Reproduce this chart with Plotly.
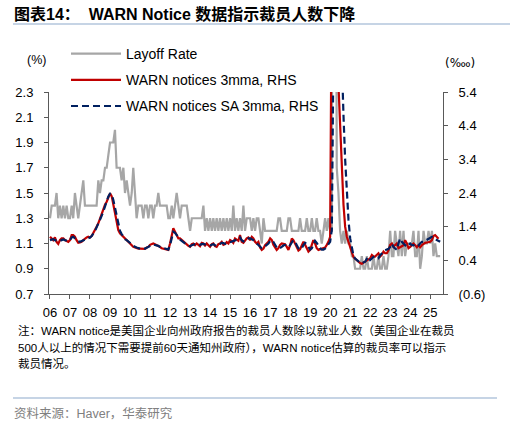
import pandas as pd
import plotly.graph_objects as go

# ---------------- data (monthly, from Jan 2006) ----------------
layoff_rate = [
    1.3,1.4,1.4,1.4,1.5,1.3,1.4,1.3,1.4,1.3,1.4,1.3,   # 2006
    1.3,1.4,1.3,1.5,1.4,1.3,1.4,1.5,1.6,1.4,1.4,1.4,   # 2007
    1.4,1.4,1.4,1.4,1.4,1.6,1.5,1.6,1.6,1.7,1.7,1.8,   # 2008
    1.9,1.9,1.9,2.0,1.7,1.7,1.7,1.6,1.7,1.5,1.6,1.5,   # 2009
    1.4,1.5,1.7,1.5,1.3,1.4,1.4,1.4,1.3,1.4,1.4,1.3,   # 2010
    1.4,1.4,1.3,1.4,1.4,1.5,1.4,1.4,1.4,1.4,1.4,1.3,   # 2011
    1.3,1.4,1.3,1.4,1.5,1.4,1.3,1.4,1.4,1.4,1.4,1.3,   # 2012
    1.2,1.3,1.3,1.3,1.3,1.3,1.3,1.3,1.4,1.2,1.3,1.2,   # 2013
    1.3,1.2,1.3,1.2,1.3,1.2,1.3,1.2,1.3,1.2,1.3,1.2,   # 2014
    1.3,1.2,1.4,1.2,1.3,1.2,1.3,1.2,1.4,1.2,1.3,1.3,   # 2015
    1.3,1.2,1.3,1.2,1.3,1.3,1.2,1.1,1.3,1.2,1.2,1.2,   # 2016
    1.2,1.2,1.2,1.2,1.2,1.3,1.3,1.2,1.2,1.2,1.2,1.3,   # 2017
    1.3,1.2,1.2,1.2,1.2,1.2,1.3,1.2,1.2,1.2,1.3,1.2,   # 2018
    1.2,1.3,1.2,1.2,1.3,1.2,1.2,1.1,1.2,1.3,1.2,1.3,   # 2019
    1.2,1.2,8.9,6.0,1.7,1.5,1.2,1.1,1.2,1.1,1.2,1.1,   # 2020
    1.1,1.0,1.0,0.9,0.9,0.9,0.9,1.0,0.9,0.9,1.0,0.9,   # 2021
    0.9,0.9,1.0,0.9,0.9,1.0,0.9,0.9,1.0,0.9,0.9,1.0,   # 2022
    1.2,1.0,1.0,1.2,1.1,1.0,1.2,1.0,1.2,1.0,1.1,1.1,   # 2023
    1.1,1.1,1.2,1.0,1.0,1.2,0.9,1.0,1.2,1.1,1.1,1.2,   # 2024
    1.1,1.2,1.0,1.1,1.0,1.0,1.0,                       # 2025
]

warn_3mma = [
    1.10,1.05,1.00,1.08,0.95,0.89,1.00,1.05,1.05,1.00,0.97,0.95,   # 2006
    1.00,1.15,1.15,1.10,1.00,0.92,0.93,0.95,1.00,1.05,1.08,1.10,   # 2007
    1.08,1.12,1.20,1.30,1.40,1.50,1.65,1.78,1.90,2.05,2.14,2.30,   # 2008
    2.39,2.30,2.09,1.85,1.55,1.30,1.20,1.15,1.10,1.05,1.02,0.98,   # 2009
    0.90,0.85,0.80,0.78,0.76,0.75,0.75,0.74,0.74,0.74,0.78,0.80,   # 2010
    0.86,0.88,0.90,0.88,0.86,0.84,0.80,0.76,0.75,0.74,0.72,0.71,   # 2011
    0.90,1.20,1.35,1.25,1.15,1.05,1.05,1.00,0.95,0.90,0.86,0.83,   # 2012
    0.80,0.88,0.90,0.85,0.90,0.87,0.82,0.92,0.90,0.84,0.90,0.85,   # 2013
    0.80,0.88,0.90,0.82,0.80,0.88,0.90,0.95,0.86,0.88,0.94,0.90,   # 2014
    1.00,0.97,0.92,1.05,1.02,0.98,1.15,0.95,0.92,1.00,1.05,1.08,   # 2015
    1.00,1.10,1.05,0.95,0.90,0.95,0.78,0.71,0.75,0.85,0.90,0.95,   # 2016
    1.05,1.00,0.86,0.76,0.71,0.76,0.86,0.90,0.90,0.88,0.80,0.71,   # 2017
    0.85,1.05,1.00,0.90,0.78,0.69,0.73,0.86,0.95,0.86,0.76,0.66,   # 2018
    0.71,0.86,1.00,0.90,0.76,0.71,0.73,0.76,0.76,0.78,0.86,0.95,   # 2019
    1.10,9.00,20.0,25.0,15.0,5.60,4.50,3.00,2.05,1.40,1.10,0.95,   # 2020
    0.80,0.62,0.50,0.45,0.40,0.35,0.32,0.30,0.33,0.36,0.38,0.42,   # 2021
    0.46,0.56,0.52,0.51,0.55,0.61,0.51,0.56,0.66,0.61,0.61,0.70,   # 2022
    0.86,0.90,0.80,0.85,0.90,0.76,0.80,0.82,0.85,1.00,0.90,0.76,   # 2023
    0.80,0.85,0.90,0.85,0.79,0.85,0.79,0.85,0.90,0.92,0.93,0.95,   # 2024
    0.95,1.00,1.12,1.15,1.08,1.04,                                 # 2025
]

warn_sa_3mma = [
    1.00,1.02,1.03,1.00,0.98,0.97,0.98,1.00,1.02,1.00,0.98,0.97,   # 2006
    1.00,1.08,1.10,1.05,1.00,0.97,0.95,0.97,1.00,1.03,1.05,1.07,   # 2007
    1.08,1.12,1.18,1.27,1.38,1.48,1.60,1.72,1.85,2.00,2.15,2.30,   # 2008
    2.38,2.35,2.20,1.95,1.68,1.42,1.28,1.18,1.10,1.03,1.00,0.96,   # 2009
    0.90,0.86,0.82,0.80,0.78,0.76,0.75,0.75,0.74,0.75,0.77,0.80,   # 2010
    0.84,0.86,0.87,0.86,0.85,0.83,0.80,0.78,0.76,0.74,0.73,0.72,   # 2011
    0.85,1.10,1.25,1.22,1.15,1.08,1.02,0.98,0.93,0.90,0.86,0.84,   # 2012
    0.82,0.85,0.87,0.88,0.88,0.87,0.86,0.88,0.89,0.87,0.86,0.85,   # 2013
    0.84,0.86,0.88,0.85,0.83,0.86,0.90,0.92,0.91,0.89,0.90,0.92,   # 2014
    0.95,0.96,0.97,1.00,1.01,1.02,1.08,1.00,0.96,0.98,1.02,1.05,   # 2015
    1.05,1.03,1.00,0.95,0.90,0.85,0.80,0.76,0.78,0.82,0.86,0.90,   # 2016
    0.98,1.00,0.95,0.85,0.78,0.74,0.76,0.80,0.84,0.86,0.84,0.80,   # 2017
    0.85,0.95,1.00,0.95,0.85,0.76,0.72,0.76,0.85,0.92,0.88,0.80,   # 2018
    0.72,0.76,0.88,0.98,0.92,0.82,0.76,0.72,0.72,0.75,0.80,0.88,   # 2019
    0.95,1.30,6.50,20.0,25.0,18.0,8.00,6.00,4.70,3.40,2.40,1.60,   # 2020
    1.05,0.75,0.55,0.45,0.40,0.36,0.33,0.32,0.34,0.36,0.45,0.51,   # 2021
    0.41,0.45,0.50,0.51,0.48,0.46,0.55,0.60,0.66,0.70,0.72,0.74,   # 2022
    0.80,0.90,0.80,0.76,0.71,0.90,1.05,0.95,0.90,0.85,0.80,0.85,   # 2023
    0.90,0.85,0.85,0.80,0.82,0.84,0.90,0.95,0.95,0.98,1.00,1.05,   # 2024
    1.08,1.10,1.06,1.03,1.00,0.97,0.95,                            # 2025
]

start_month = "2006-01-01"
series_names = ["Layoff Rate", "WARN notices 3mma, RHS", "WARN notices SA 3mma, RHS"]
left_ticks = [0.7, 0.9, 1.1, 1.3, 1.5, 1.7, 1.9, 2.1, 2.3]
right_ticks = [-0.6, 0.4, 1.4, 2.4, 3.4, 4.4, 5.4]
right_tick_text = ["(0.6)", "0.4", "1.4", "2.4", "3.4", "4.4", "5.4"]

title_text = "<b>图表14：  WARN Notice 数据指示裁员人数下降</b>"
note_lines = [
    "注：WARN notice是美国企业向州政府报告的裁员人数除以就业人数（美国企业在裁员",
    "500人以上的情况下需要提前60天通知州政府），WARN notice估算的裁员率可以指示",
    "裁员情况。",
]
source_text = "资料来源：Haver，华泰研究"

# ---------------- figure ----------------
W, H = 513, 424
L, R, T, B = 49, 443, 92, 294


def px(x):
    return (x - L) / (R - L)


def py(y):
    return (B - y) / (B - T)


def months(n):
    return pd.date_range(start_month, periods=n, freq="MS")


LAT = "Liberation Sans, Arial, Noto Sans CJK SC, sans-serif"
CJK = "Liberation Sans, Noto Sans CJK SC, sans-serif"

fig = go.Figure()
fig.add_trace(go.Scatter(
    x=months(len(layoff_rate)), y=layoff_rate, name=series_names[0],
    mode="lines", line=dict(color="#A6A6A6", width=2.2), legendgroup="a",
))
fig.add_trace(go.Scatter(
    x=months(len(warn_3mma)), y=warn_3mma, name=series_names[1], yaxis="y2",
    mode="lines", line=dict(color="#C00000", width=2.2), legendgroup="b",
))
fig.add_trace(go.Scatter(
    x=months(len(warn_sa_3mma)), y=warn_sa_3mma, name=series_names[2], yaxis="y2",
    mode="lines", line=dict(color="#002060", width=2.2, dash="7px,4px"), legendgroup="c",
))

axis_col = "#595959"
fig.update_layout(
    width=W, height=H,
    margin=dict(l=L, r=W - R, t=T, b=H - B, pad=0),
    paper_bgcolor="white", plot_bgcolor="white",
    font=dict(family=LAT, size=13, color="black"),
    showlegend=True,
    hovermode=False,
    legend=dict(
        x=px(66), y=py(38), xanchor="left", yanchor="top",
        bgcolor="rgba(0,0,0,0)", font=dict(size=14, family=LAT),
        traceorder="grouped", tracegroupgap=5, itemwidth=50,
    ),
    xaxis=dict(
        type="date", range=["2005-12-14", "2025-08-22"],
        tick0="2006-01-01", dtick="M12", tickformat="%y",
        showgrid=False, zeroline=False,
        showline=True, linecolor=axis_col, linewidth=1,
        ticks="outside", ticklen=4, tickcolor=axis_col,
        tickfont=dict(size=13), ticklabelstandoff=2,
    ),
    yaxis=dict(
        range=[0.7, 2.3], tickvals=left_ticks, tickformat=".1f",
        showgrid=False, zeroline=False,
        showline=True, linecolor=axis_col, linewidth=1,
        ticks="outside", ticklen=4, tickcolor=axis_col,
        tickfont=dict(size=13), ticklabelstandoff=8,
    ),
    yaxis2=dict(
        range=[-0.6, 5.4], tickvals=right_ticks, ticktext=right_tick_text,
        overlaying="y", side="right",
        showgrid=False, zeroline=False,
        showline=True, linecolor=axis_col, linewidth=1,
        ticks="outside", ticklen=4, tickcolor=axis_col,
        tickfont=dict(size=13), ticklabelstandoff=8,
    ),
)

ann = []
ann.append(dict(text=title_text, x=px(12), y=py(14), xref="paper", yref="paper",
                xanchor="left", yanchor="middle", showarrow=False,
                font=dict(size=16, family=CJK, color="black")))
ann.append(dict(text="(%)", x=px(36), y=py(60), xref="paper", yref="paper",
                xanchor="center", yanchor="middle", showarrow=False,
                font=dict(size=12.5, family=LAT)))
ann.append(dict(text="(‱)", x=px(460), y=py(63), xref="paper", yref="paper",
                xanchor="center", yanchor="middle", showarrow=False,
                font=dict(size=12, family="DejaVu Sans, Liberation Sans")))
for i, line in enumerate(note_lines):
    ann.append(dict(text=line, x=px(16), y=py(330 + 17 * i), xref="paper", yref="paper",
                    xanchor="left", yanchor="middle", showarrow=False,
                    font=dict(size=11.5, family=CJK, color="black")))
ann.append(dict(text=source_text, x=px(12), y=py(413), xref="paper", yref="paper",
                xanchor="left", yanchor="middle", showarrow=False,
                font=dict(size=12.5, family=CJK, color="#808080")))
fig.update_layout(annotations=ann)

rule_col = "#8EA9CB"
fig.update_layout(shapes=[
    dict(type="line", xref="paper", yref="paper", x0=px(13), x1=px(510),
         y0=py(24), y1=py(24), line=dict(color=rule_col, width=1.2)),
    dict(type="line", xref="paper", yref="paper", x0=px(13), x1=px(497),
         y0=py(398), y1=py(398), line=dict(color=rule_col, width=1.2)),
])

fig.write_html(
    "out.html",
    config={"displayModeBar": False, "staticPlot": True},
    post_script="document.body.style.margin='0';document.body.style.overflow='hidden';",
)
